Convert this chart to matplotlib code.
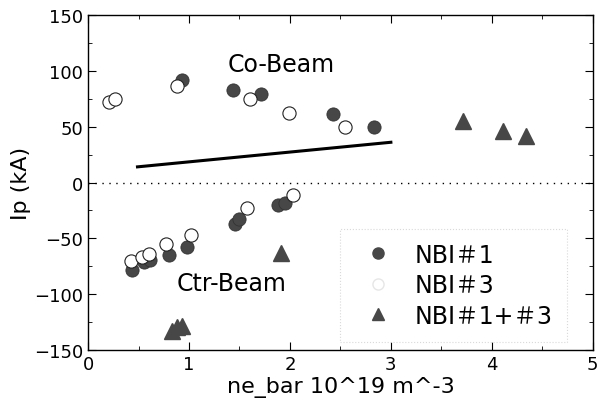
import matplotlib
matplotlib.use("Agg")
import matplotlib.pyplot as plt
from matplotlib.lines import Line2D
from matplotlib.ticker import MultipleLocator

plt.rcParams['font.family'] = ['DejaVu Sans', 'Noto Sans CJK JP']

# NBI#1 (filled circles)
nbi1_x = [0.93, 1.44, 1.71, 2.43, 2.83,
          0.44, 0.55, 0.61, 0.80, 0.98, 1.46, 1.50, 1.88, 1.95]
nbi1_y = [92, 83, 79, 61.5, 50,
          -78, -71, -69, -65, -58, -37, -33, -20, -18]
# NBI#3 (open circles)
nbi3_x = [0.21, 0.27, 0.88, 1.60, 1.99, 2.55,
          0.43, 0.53, 0.60, 0.77, 1.02, 1.57, 2.03]
nbi3_y = [72, 75, 86, 75, 62, 50,
          -70, -67, -64, -55, -47, -23, -11]
# NBI#1+#3 (triangles)
nbi13_x = [3.71, 4.11, 4.34, 0.83, 0.88, 0.93, 1.91]
nbi13_y = [55, 46, 42, -133, -129, -128, -63]
# solid line
line_x = [0.49, 3.0]
line_y = [14, 36]

fig = plt.figure(figsize=(6.03, 4.06), dpi=100)
ax = fig.add_axes([0.146, 0.135, 0.837, 0.826])

fill_c = '#474747'
ax.axhline(0, color='black', linestyle=(0, (1, 4)), linewidth=1.0, zorder=1)
ax.plot(line_x, line_y, color='black', linewidth=2.2, zorder=2)
ax.plot(nbi1_x, nbi1_y, 'o', color=fill_c, markersize=9.5, markeredgewidth=0.6,
        markeredgecolor='#333333', linestyle='none', zorder=3)
ax.plot(nbi3_x, nbi3_y, 'o', markerfacecolor='white', markeredgecolor='#222222',
        markersize=9.5, markeredgewidth=0.8, linestyle='none', zorder=4)
ax.plot(nbi13_x, nbi13_y, '^', color=fill_c, markersize=11, linestyle='none', zorder=3)

ax.set_xlim(0, 5)
ax.set_ylim(-150, 150)
ax.xaxis.set_major_locator(MultipleLocator(1))
ax.xaxis.set_minor_locator(MultipleLocator(0.5))
ax.yaxis.set_major_locator(MultipleLocator(50))
ax.yaxis.set_minor_locator(MultipleLocator(25))
ax.tick_params(which='both', direction='in', top=True, right=True, labelsize=13)
ax.tick_params(which='major', length=6)
ax.tick_params(which='minor', length=3)
for s in ax.spines.values():
    s.set_linewidth(1.0)

ax.set_xlabel('ne_bar 10^19 m^-3', fontsize=16, labelpad=2)
ax.set_ylabel('Ip (kA)', fontsize=16, labelpad=2)

ax.text(1.38, 106, 'Co-Beam', fontsize=17, va='center', ha='left')
ax.text(0.88, -90, 'Ctr-Beam', fontsize=17, va='center', ha='left')

handles = [
    Line2D([], [], marker='o', color=fill_c, linestyle='none', markersize=8),
    Line2D([], [], marker='o', markerfacecolor='white', markeredgecolor='#e6e6e6',
           linestyle='none', markersize=8),
    Line2D([], [], marker='^', color=fill_c, linestyle='none', markersize=9),
]
leg = ax.legend(handles, ['NBI＃1', 'NBI＃3', 'NBI＃1+＃3'], loc='center',
                bbox_to_anchor=(0.724, 0.194), fontsize=17, frameon=True,
                fancybox=False, handletextpad=0.57, labelspacing=0.27,
                borderpad=0.6, handlelength=2.0)
fr = leg.get_frame()
fr.set_edgecolor('#d0d0d0')
fr.set_linestyle(':')
fr.set_linewidth(0.8)

fig.savefig('out.png', dpi=100)
